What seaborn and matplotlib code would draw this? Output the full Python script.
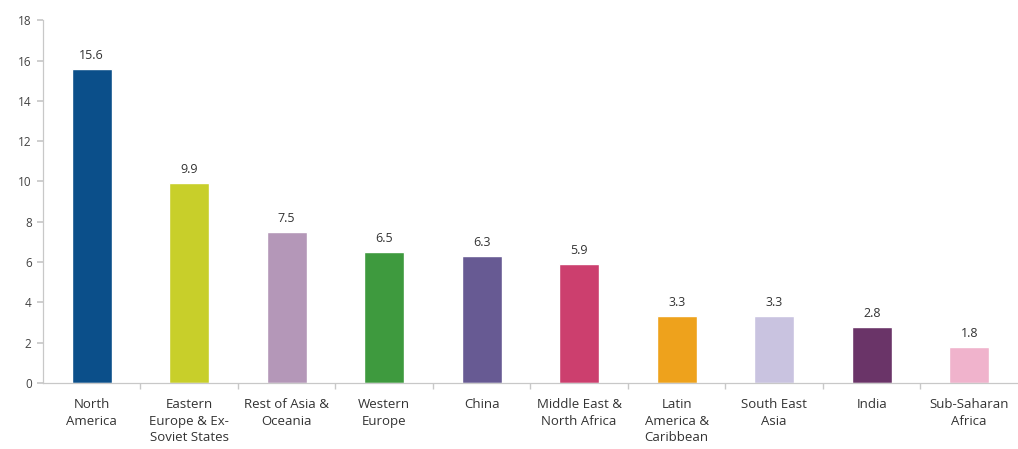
import matplotlib
matplotlib.use("Agg")
import matplotlib.pyplot as plt
import seaborn as sns
import pandas as pd
import numpy as np
from matplotlib.ticker import FixedLocator

categories = ["North\nAmerica", "Eastern\nEurope & Ex-\nSoviet States", "Rest of Asia &\nOceania",
              "Western\nEurope", "China", "Middle East &\nNorth Africa", "Latin\nAmerica &\nCaribbean",
              "South East\nAsia", "India", "Sub-Saharan\nAfrica"]
values = [15.6, 9.9, 7.5, 6.5, 6.3, 5.9, 3.3, 3.3, 2.8, 1.8]
colors = ["#0b4f8a", "#c8cf2a", "#b497b8", "#3e9a3e", "#675a93", "#cc3f6e",
          "#eea21c", "#c9c3e0", "#6a3468", "#f0b3cc"]
yticks = [0, 2, 4, 6, 8, 10, 12, 14, 16, 18]

sns.set_theme(style="white")
plt.rcParams['font.family'] = ['Open Sans', 'DejaVu Sans']

df = pd.DataFrame({"cat": categories, "val": values})
fig = plt.figure(figsize=(10.18, 4.49), dpi=100)
ax = fig.add_axes([0.042, 0.147, 0.958, 0.808])
sns.barplot(data=df, x="cat", y="val", hue="cat", palette=colors, legend=False,
            width=0.41, saturation=1, ax=ax)

for i, v in enumerate(values):
    ax.text(i, v + 0.35, f"{v}", ha="center", va="bottom", fontsize=9, color="#333333")

ax.set_xlim(-0.5, len(categories) - 0.5)
ax.set_ylim(0, 18)
ax.set_yticks(yticks)
ax.set_xlabel("")
ax.set_ylabel("")
for s in ["top", "right"]:
    ax.spines[s].set_visible(False)
for s in ["left", "bottom"]:
    ax.spines[s].set_color("#c8c8c8")
    ax.spines[s].set_linewidth(0.9)

ax.tick_params(axis="y", left=True, length=4, color="#c8c8c8", labelsize=8.5, labelcolor="#444444", pad=4)
ax.tick_params(axis="x", bottom=False, labelsize=9.5, labelcolor="#333333", pad=5)
ax.xaxis.set_minor_locator(FixedLocator(np.arange(0.5, len(categories) - 0.5, 1)))
ax.tick_params(axis="x", which="minor", bottom=True, length=4, color="#c8c8c8", direction="out")
for lbl in ax.get_xticklabels():
    lbl.set_linespacing(1.35)
    lbl.set_verticalalignment("top")

fig.savefig("out.png", dpi=100)
